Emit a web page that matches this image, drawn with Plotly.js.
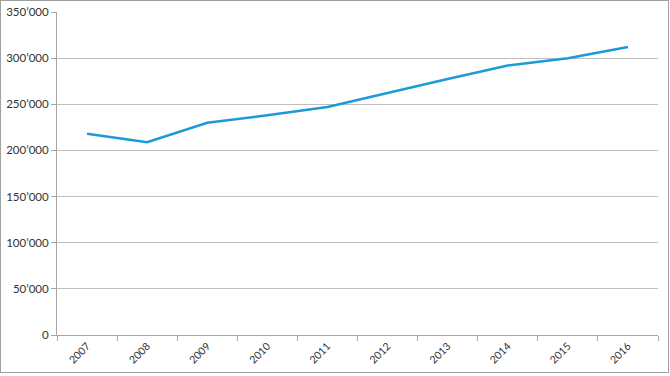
<!DOCTYPE html>
<html>
<head>
<meta charset="utf-8">
<script src="https://cdn.plot.ly/plotly-3.0.1.min.js"></script>
<style>
html,body{margin:0;padding:0;background:#fff;}
#wrap{position:relative;width:670px;height:376px;}
#chart{width:670px;height:376px;}
#frame{position:absolute;left:0;top:0;width:667px;height:371px;border:1px solid #a0a0a0;pointer-events:none;}
</style>
</head>
<body>
<div id="wrap"><div id="chart"></div><div id="frame"></div></div>
<script>
const years = ["2007","2008","2009","2010","2011","2012","2013","2014","2015","2016"];
const values = [218000, 209000, 230000, 238000, 247000, 262500, 277500, 292000, 300000, 312000];
const yTickVals = [0, 50000, 100000, 150000, 200000, 250000, 300000, 350000];
const yTickText = ["0", "50’000", "100’000", "150’000", "200’000", "250’000", "300’000", "350’000"];

const trace = {
  x: years,
  y: values,
  type: "scatter",
  mode: "lines",
  line: {color: "#1b9ad7", width: 2.5},
  hoverinfo: "skip"
};

const layout = {
  width: 670,
  height: 376,
  margin: {l: 57, r: 12, t: 12, b: 41},
  paper_bgcolor: "#ffffff",
  plot_bgcolor: "#ffffff",
  showlegend: false,
  font: {family: "Lato, 'Open Sans', sans-serif", size: 11, color: "#333333"},
  xaxis: {
    type: "category",
    range: [-0.5, 9.5],
    tickson: "boundaries",
    ticks: "outside",
    ticklen: 5,
    tickcolor: "#a6a6a6",
    showline: true,
    linecolor: "#a6a6a6",
    linewidth: 1,
    showgrid: false,
    tickangle: -45,
    tickfont: {size: 10.5, color: "#333333"},
    fixedrange: true
  },
  yaxis: {
    range: [0, 350000],
    tickvals: yTickVals,
    ticktext: yTickText,
    ticks: "outside",
    ticklen: 5,
    tickcolor: "#a6a6a6",
    showline: true,
    linecolor: "#a6a6a6",
    linewidth: 1,
    showgrid: true,
    gridcolor: "#bfbfbf",
    gridwidth: 1,
    zeroline: false,
    tickfont: {size: 11.5, color: "#333333"},
    fixedrange: true
  }
};

Plotly.newPlot("chart", [trace], layout, {staticPlot: true, displayModeBar: false});
</script>
</body>
</html>
